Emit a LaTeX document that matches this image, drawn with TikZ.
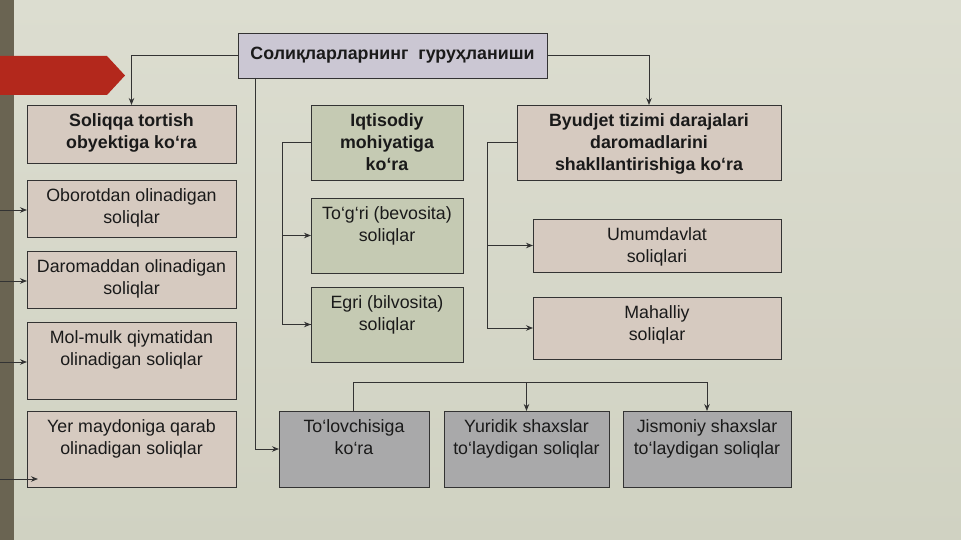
\documentclass[tikz,border=0pt]{standalone}
\usepackage{fontspec}
\setmainfont{Liberation Sans}
\usetikzlibrary{arrows.meta}
\definecolor{bgtop}{HTML}{DCDDD0}
\definecolor{bgbot}{HTML}{D0D2C2}
\definecolor{strip}{HTML}{6A6452}
\definecolor{redarr}{HTML}{B3281C}
\definecolor{pinkbox}{HTML}{D6CAC0}
\definecolor{greenbox}{HTML}{C5CAB3}
\definecolor{lavbox}{HTML}{CBC7D3}
\definecolor{graybox}{HTML}{A9A9AA}
\definecolor{edge}{HTML}{333333}
\definecolor{ink}{HTML}{1A1A1A}
\newcommand\bx[6]{\node[boxbase,#6, minimum width={(#4-#2)*1pt}, minimum height={(#5-#3)*1pt}] (#1) at ({(#2+#4)/2},{(#3+#5)/2}) {};}
\begin{document}
\begin{tikzpicture}[x=1pt,y=-1pt,
  boxbase/.style={draw=edge, line width=0.9pt, inner sep=0pt, outer sep=0pt},
  pink/.style={fill=pinkbox},
  green/.style={fill=greenbox},
  lav/.style={fill=lavbox},
  gray/.style={fill=graybox},
  txt/.style={inner sep=0pt, align=center, text=ink, font=\fontsize{17.8}{22}\selectfont},
  btxt/.style={txt, font=\fontsize{17.8}{22}\selectfont\bfseries},
  conn/.style={draw=edge, line width=0.9pt},
  arr/.style={conn, -{Stealth[length=7pt,width=5.5pt]}}
]
\useasboundingbox (0,0) rectangle (961,540);
\shade[top color=bgtop, bottom color=bgbot] (0,0) rectangle (961,540);
\fill[strip] (0,0) rectangle (14,540);
\fill[redarr] (0,56) -- (107,56) -- (125,75.5) -- (107,95) -- (0,95) -- cycle;

% boxes
\bx{top}{238}{33}{547}{78}{lav}
\bx{soliqqa}{27}{105}{236}{163}{pink}
\bx{oborot}{27}{180}{236}{237}{pink}
\bx{daromad}{27}{251}{236}{308}{pink}
\bx{molmulk}{27}{322}{236}{399}{pink}
\bx{yer}{27}{411}{236}{487}{pink}
\bx{iqt}{311}{105}{463}{180}{green}
\bx{togri}{311}{198}{463}{273}{green}
\bx{egri}{311}{287}{463}{362}{green}
\bx{byud}{517}{105}{781}{180}{pink}
\bx{umum}{533}{219}{781}{272}{pink}
\bx{mahal}{533}{297}{781}{359}{pink}
\bx{tolov}{279}{411}{429}{487}{gray}
\bx{yurid}{444}{411}{609}{487}{gray}
\bx{jism}{623}{411}{791}{487}{gray}

% texts
\node[btxt] (topt) at (top.center) {Солиқларларнинг\ \ гуруҳланиши};
\node[btxt, anchor=north] (soliqqat) at ([yshift=-8pt]soliqqa.north) {Soliqqa tortish\\obyektiga ko‘ra};
\node[txt, anchor=north] (oborott) at ([yshift=-8pt]oborot.north) {Oborotdan olinadigan\\soliqlar};
\node[txt, anchor=north] (daromadt) at ([yshift=-8pt]daromad.north) {Daromaddan olinadigan\\soliqlar};
\node[txt, anchor=north] (molmulkt) at ([yshift=-8pt]molmulk.north) {Mol-mulk qiymatidan\\olinadigan soliqlar};
\node[txt, anchor=north] (yert) at ([yshift=-8pt]yer.north) {Yer maydoniga qarab\\olinadigan soliqlar};
\node[btxt, anchor=north] (iqtt) at ([yshift=-8pt]iqt.north) {Iqtisodiy\\mohiyatiga\\ko‘ra};
\node[txt, anchor=north] (togrit) at ([yshift=-8pt]togri.north) {To‘g‘ri (bevosita)\\soliqlar};
\node[txt, anchor=north] (egrit) at ([yshift=-8pt]egri.north) {Egri (bilvosita)\\soliqlar};
\node[btxt, anchor=north] (byudt) at ([yshift=-8pt]byud.north) {Byudjet tizimi darajalari\\daromadlarini\\shakllantirishiga ko‘ra};
\node[txt, anchor=north] (umumt) at ([yshift=-8pt]umum.north) {Umumdavlat\\soliqlari};
\node[txt, anchor=north] (mahalt) at ([yshift=-8pt]mahal.north) {Mahalliy\\soliqlar};
\node[txt, anchor=north] (tolovt) at ([yshift=-8pt]tolov.north) {To‘lovchisiga\\ko‘ra};
\node[txt, anchor=north] (yuridt) at ([yshift=-8pt]yurid.north) {Yuridik shaxslar\\to‘laydigan soliqlar};
\node[txt, anchor=north] (jismt) at ([yshift=-8pt]jism.north) {Jismoniy shaxslar\\to‘laydigan soliqlar};

% connectors from title
\draw[arr] (top.west) -| (soliqqa.north);
\draw[arr] (top.east) -| (byud.north);
\coordinate (topdown) at ([xshift=17pt]top.south west);
\draw[arr] (topdown) |- (tolov.west);

% iqtisodiy branch
\coordinate (ibus) at (282,0);
\draw[conn] (iqt.west) -- (iqt.west -| ibus) |- (egri.west);
\draw[arr] (iqt.west -| ibus) |- (togri.west);
\draw[arr] (togri.west -| ibus) |- (egri.west);

% byudjet branch
\coordinate (bbus) at (487,0);
\draw[conn] (byud.west) -- (byud.west -| bbus);
\draw[arr] (byud.west -| bbus) |- (umum.west);
\draw[arr] (umum.west -| bbus) |- (mahal.west);

% payer branch
\coordinate (tbar) at (353,382);
\draw[conn] (tbar |- tolov.north) -- (tbar) -- (tbar -| jism.north);
\draw[arr] (tbar -| yurid.north) -- (yurid.north);
\draw[arr] (tbar -| jism.north) -- (jism.north);

% left incoming arrows
\coordinate (l1) at (0,210);
\coordinate (l2) at (0,281);
\coordinate (l3) at (0,362);
\coordinate (l4) at (0,479);
\coordinate (l4e) at (38,479);
\draw[arr] (l1) -- (l1 -| oborot.west);
\draw[arr] (l2) -- (l2 -| daromad.west);
\draw[arr] (l3) -- (l3 -| molmulk.west);
\draw[arr] (l4) -- (l4e);
\end{tikzpicture}
\end{document}
